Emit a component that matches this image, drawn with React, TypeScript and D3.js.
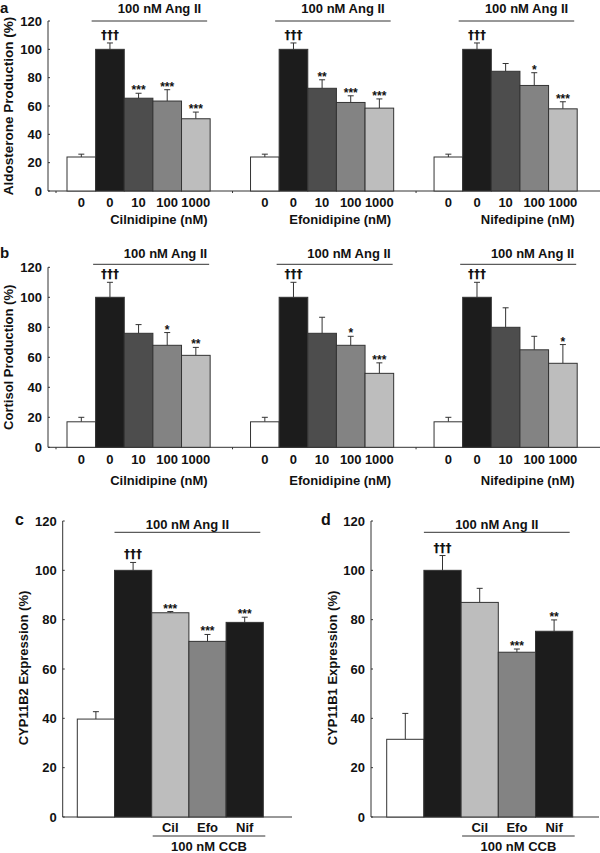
import React from "react";
import * as d3 from "d3";

// ---------- data ----------
const doseLabels = ["0", "0", "10", "100", "1000"];
const drugNames = ["Cilnidipine (nM)", "Efonidipine (nM)", "Nifedipine (nM)"];

const aldoMeans = [
  [24, 100, 65.5, 63.5, 51],
  [24, 100, 72.5, 62.5, 58.5],
  [24, 100, 84.5, 74.5, 58],
];
const aldoErrs = [
  [2, 4.5, 3.5, 8, 4.7],
  [2, 4.5, 6, 4.7, 6.5],
  [2, 4.5, 5.5, 9, 5],
];
const aldoSig = [
  ["", "†††", "***", "***", "***"],
  ["", "†††", "**", "***", "***"],
  ["", "†††", "", "*", "***"],
];

const cortMeans = [
  [17, 100, 76, 68, 61.3],
  [17, 100, 76, 68, 49.3],
  [17, 100, 80, 65, 56],
];
const cortErrs = [
  [3, 10, 5.8, 8.5, 5.3],
  [3, 10, 10.7, 6, 7],
  [3, 10, 13, 9, 12.5],
];
const cortSig = [
  ["", "†††", "", "*", "**"],
  ["", "†††", "", "*", "***"],
  ["", "†††", "", "", "*"],
];

const ccbLabels = ["", "", "Cil", "Efo", "Nif"];
const b2Means = [39.7, 100, 82.8, 71.2, 78.9];
const b2Errs = [3, 3.2, 0.5, 2.8, 2.1];
const b2Sig = ["", "†††", "***", "***", "***"];
const b1Means = [31.5, 100, 87, 66.8, 75.3];
const b1Errs = [10.5, 6, 5.7, 1.3, 4.6];
const b1Sig = ["", "†††", "", "***", "**"];

const yTicks = [0, 20, 40, 60, 80, 100, 120];

// ---------- style ----------
const FONT = "'Liberation Sans', Arial, Helvetica, sans-serif";
const DAGGER_FONT = "'DejaVu Sans', 'Liberation Sans', sans-serif";
const doseColors = ["#ffffff", "#1c1c1c", "#4d4d4d", "#838383", "#bdbdbd"];
const ccbColors = ["#ffffff", "#1c1c1c", "#bdbdbd", "#838383", "#1c1c1c"];
const STROKE = "#333";
const INK = "#111";

function YAxis({ y, x, tickLen = 2 }: { y: d3.ScaleLinear<number, number>; x: number; tickLen?: number }) {
  return (
    <g>
      <line x1={x} x2={x} y1={y(0)} y2={y(120)} stroke={STROKE} strokeWidth={1} />
      {yTicks.map((t) => (
        <g key={t}>
          <line x1={x} x2={x + tickLen} y1={y(t)} y2={y(t)} stroke={STROKE} />
          <text x={x - 6} y={y(t) + 4.6} textAnchor="end" fontSize={13} fontWeight="bold" fill={INK}>
            {t}
          </text>
        </g>
      ))}
    </g>
  );
}

function Bars({
  xs, w, y, means, errs, sigs, colors,
}: {
  xs: number[]; w: number; y: d3.ScaleLinear<number, number>;
  means: number[]; errs: number[]; sigs: string[]; colors: string[];
}) {
  return (
    <g>
      {means.map((m, i) => {
        const x0 = xs[i];
        const cx = x0 + w / 2;
        const top = y(m);
        const et = y(m + errs[i]);
        const sig = sigs[i];
        const dagger = sig.includes("†");
        return (
          <g key={i}>
            <line x1={cx} x2={cx} y1={top} y2={et} stroke={STROKE} strokeWidth={1} />
            <line x1={cx - 3} x2={cx + 3} y1={et} y2={et} stroke={STROKE} strokeWidth={1} />
            <rect x={x0} y={top} width={w} height={y(0) - top} fill={colors[i]} stroke={STROKE} strokeWidth={1} />
            {sig && (
              <text
                x={cx}
                y={dagger ? et - 4 : et + 1}
                textAnchor="middle"
                fontSize={12}
                fontWeight="bold"
                fontFamily={dagger ? DAGGER_FONT : FONT}
                fill={INK}
              >
                {sig}
              </text>
            )}
          </g>
        );
      })}
    </g>
  );
}

function DosePanel({
  letter, letterY, yLabel, yLabelSize, y, means, errs, sigs, angTextY, angLineY, angLineL, angLineR, angTextOff,
  tickLabelY, drugLabelY,
}: any) {
  const axisX = 48;
  const outer = d3.scaleBand<string>().domain(drugNames).range([67, 577.2]).paddingInner(0.22).paddingOuter(0);
  const inner = d3.scaleBand<number>().domain([0, 1, 2, 3, 4]).range([0, outer.bandwidth()]).padding(0);
  const w = inner.bandwidth();
  const base = y(0);
  return (
    <g>
      <text x={0} y={letterY} fontSize={15} fontWeight="bold" fill={INK}>{letter}</text>
      <text
        transform={`translate(12.5,${(y(0) + y(120)) / 2}) rotate(-90)`}
        textAnchor="middle"
        fontSize={yLabelSize}
        fontWeight="bold"
        fill={INK}
      >
        {yLabel}
      </text>
      <YAxis y={y} x={axisX} />
      <line x1={axisX} x2={600} y1={base} y2={base} stroke={STROKE} strokeWidth={1} />
      {drugNames.map((d, g) => {
        const gx = outer(d)!;
        const xs = [0, 1, 2, 3, 4].map((i) => gx + inner(i)!);
        const lineL = xs[1] - angLineL;
        const lineR = xs[4] + w - angLineR;
        const tickX = gx - (g === 0 ? 11 : 18);
        return (
          <g key={d}>
            <line x1={tickX} x2={tickX} y1={base} y2={base + 2} stroke={STROKE} />
            <Bars xs={xs} w={w} y={y} means={means[g]} errs={errs[g]} sigs={sigs[g]} colors={doseColors} />
            <line x1={lineL} x2={lineR} y1={angLineY} y2={angLineY} stroke={STROKE} strokeWidth={1} />
            <text x={lineR - angTextOff} y={angTextY} textAnchor="end" fontSize={13} fontWeight="bold" fill={INK}>
              100 nM Ang II
            </text>
            {doseLabels.map((l, i) => (
              <text key={i} x={xs[i] + w / 2} y={tickLabelY} textAnchor="middle" fontSize={13} fontWeight="bold" fill={INK}>
                {l}
              </text>
            ))}
            <text x={gx + 5 * w - 2.5} y={drugLabelY} textAnchor="end" fontSize={13} fontWeight="bold" fill={INK}>
              {d}
            </text>
          </g>
        );
      })}
    </g>
  );
}

function CcbPanel({ letter, letterX, axisX, barStart, axisEnd, yLabel, yLabelX, means, errs, sigs }: any) {
  const y = d3.scaleLinear().domain([0, 120]).range([817, 521]);
  const x = d3.scaleBand<number>().domain([0, 1, 2, 3, 4]).range([barStart, barStart + 5 * 37.2]).padding(0);
  const w = x.bandwidth();
  const xs = [0, 1, 2, 3, 4].map((i) => x(i)!);
  const base = y(0);
  const lineL = xs[1];
  const lineR = xs[4] + w - 3;
  const ccbL = xs[2] + 1;
  const ccbR = xs[4] + w + 2;
  return (
    <g>
      <text x={letterX} y={525} fontSize={16} fontWeight="bold" fill={INK}>{letter}</text>
      <text
        transform={`translate(${yLabelX},668) rotate(-90)`}
        textAnchor="middle"
        fontSize={13}
        fontWeight="bold"
        fill={INK}
      >
        {yLabel}
      </text>
      <YAxis y={y} x={axisX} />
      <line x1={axisX} x2={axisEnd} y1={base} y2={base} stroke={STROKE} strokeWidth={1} />
      <Bars xs={xs} w={w} y={y} means={means} errs={errs} sigs={sigs} colors={ccbColors} />
      <line x1={lineL} x2={lineR} y1={532.3} y2={532.3} stroke={STROKE} strokeWidth={1} />
      <text x={(lineL + lineR) / 2} y={528.5} textAnchor="middle" fontSize={13} fontWeight="bold" fill={INK}>
        100 nM Ang II
      </text>
      {ccbLabels.map((l, i) =>
        l ? (
          <text key={i} x={xs[i] + w / 2} y={832} textAnchor="middle" fontSize={13} fontWeight="bold" fill={INK}>
            {l}
          </text>
        ) : null
      )}
      <line x1={ccbL} x2={ccbR} y1={836} y2={836} stroke={STROKE} strokeWidth={1} />
      <text x={(ccbL + ccbR) / 2} y={851} textAnchor="middle" fontSize={13} fontWeight="bold" fill={INK}>
        100 nM CCB
      </text>
    </g>
  );
}

export default function App() {
  const yA = d3.scaleLinear().domain([0, 120]).range([191, 21]);
  const yB = d3.scaleLinear().domain([0, 120]).range([447.3, 267.3]);
  return (
    <svg
      width={600}
      height={853}
      viewBox="0 0 600 853"
      style={{ position: "absolute", left: 0, top: 0, background: "#fff" }}
      fontFamily={FONT}
    >
      <rect x={0} y={0} width={600} height={853} fill="#fff" />
      <DosePanel
        letter="a" letterY={12.5} yLabel="Aldosterone Production (%)" yLabelSize={13.5}
        y={yA} means={aldoMeans} errs={aldoErrs} sigs={aldoSig}
        angTextY={12.5} angLineY={21} angLineL={4} angLineR={3} angTextOff={6}
        tickLabelY={206.5} drugLabelY={224}
      />
      <DosePanel
        letter="b" letterY={257.5} yLabel="Cortisol Production (%)" yLabelSize={13}
        y={yB} means={cortMeans} errs={cortErrs} sigs={cortSig}
        angTextY={257.5} angLineY={264.3} angLineL={2.5} angLineR={1} angTextOff={2}
        tickLabelY={464} drugLabelY={485}
      />
      <CcbPanel
        letter="c" letterX={15} axisX={62.7} barStart={77.3} axisEnd={292}
        yLabel="CYP11B2 Expression (%)" yLabelX={27.5}
        means={b2Means} errs={b2Errs} sigs={b2Sig}
      />
      <CcbPanel
        letter="d" letterX={321} axisX={371} barStart={386.7} axisEnd={599}
        yLabel="CYP11B1 Expression (%)" yLabelX={337}
        means={b1Means} errs={b1Errs} sigs={b1Sig}
      />
    </svg>
  );
}
